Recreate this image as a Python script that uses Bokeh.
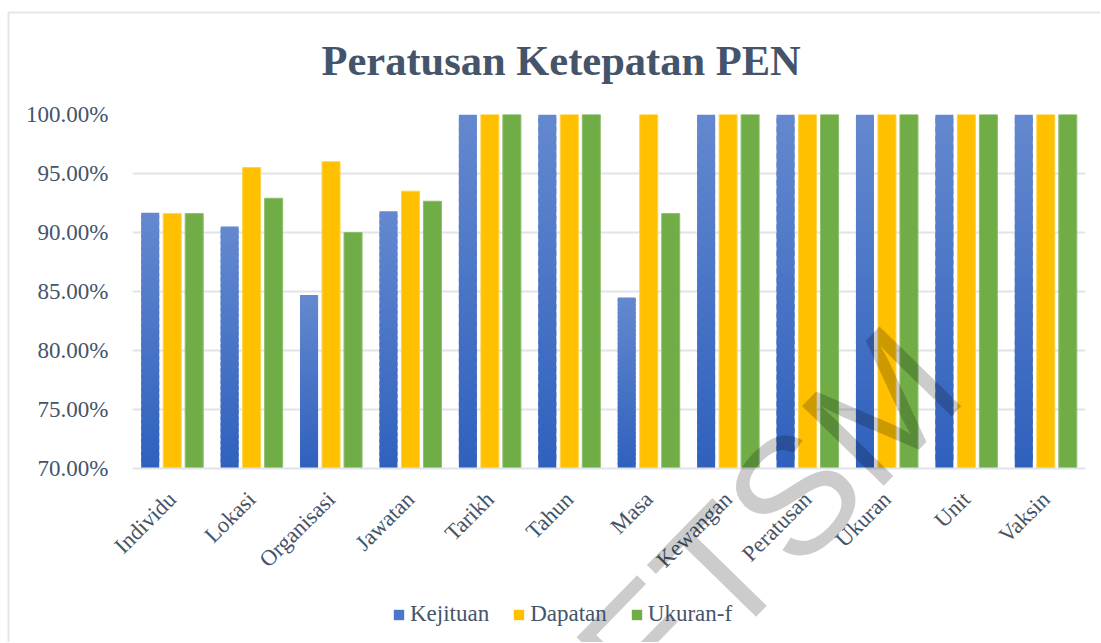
import math
from bokeh.plotting import figure
from bokeh.models import (ColumnDataSource, FixedTicker, NumeralTickFormatter, Legend,
                          LegendItem, Range1d, FactorRange)
from bokeh.core.properties import value
from bokeh.transform import dodge
from bokeh.embed import file_html
from bokeh.resources import INLINE

# ---------------- data ----------------
categories = ["Individu", "Lokasi", "Organisasi", "Jawatan", "Tarikh", "Tahun",
              "Masa", "Kewangan", "Peratusan", "Ukuran", "Unit", "Vaksin"]
kejituan = [0.9167, 0.905, 0.847, 0.918, 1.0, 1.0, 0.845, 1.0, 1.0, 1.0, 1.0, 1.0]
dapatan = [0.916, 0.955, 0.960, 0.935, 1.0, 1.0, 1.0, 1.0, 1.0, 1.0, 1.0, 1.0]
ukuran_f = [0.916, 0.929, 0.900, 0.9265, 1.0, 1.0, 0.916, 1.0, 1.0, 1.0, 1.0, 1.0]
series_names = ["Kejituan", "Dapatan", "Ukuran-f"]
y_ticks = [0.70, 0.75, 0.80, 0.85, 0.90, 0.95, 1.00]
title_text = "Peratusan Ketepatan PEN"
watermark_text = "ETSM"

# ---------------- style ----------------
BASE = 0.70
TEXT = "#44546A"
GRID = "#E0E3E8"
FRAME = "#E3E6EA"
YELLOW = "#FFC000"
GREEN = "#70AD47"
BLUE_MID = "#4A77C8"
BLUE_BOTTOM = (47, 97, 189)
BLUE_TOP = (100, 136, 207)
BAR_W = 0.227
STEP = 0.277
SERIF = "Liberation Serif"

p = figure(x_range=FactorRange(*categories), y_range=Range1d(BASE, 1.0),
           width=1090, height=642, output_backend="svg", toolbar_location=None,
           min_border_left=123, min_border_right=14, min_border_top=114,
           min_border_bottom=174, background_fill_color="white",
           border_fill_color="white")
p.styles = {"margin-left": "9px"}
p.outline_line_color = None

# blue bars with vertical gradient (slices computed from each value)
N = 40
bx, bb, bt, bc = [], [], [], []
for c, v in zip(categories, kejituan):
    for i in range(N):
        f = (i + 0.5) / N
        col = tuple(int(round(BLUE_BOTTOM[k] + (BLUE_TOP[k] - BLUE_BOTTOM[k]) * f)) for k in range(3))
        bx.append(c)
        bb.append(BASE + (v - BASE) * i / N)
        bt.append(BASE + (v - BASE) * min(i + 1.6, N) / N)
        bc.append("#%02x%02x%02x" % col)
blue_src = ColumnDataSource(dict(cat=bx, bottom=bb, top=bt, color=bc))
r_blue = p.vbar(x=dodge("cat", -STEP, range=p.x_range), width=BAR_W, bottom="bottom",
                top="top", fill_color="color", line_color=None, source=blue_src)

src = ColumnDataSource(dict(cat=categories, dapatan=dapatan, ukuran=ukuran_f))
r_yel = p.vbar(x=dodge("cat", 0.0, range=p.x_range), width=BAR_W, bottom=BASE,
               top="dapatan", fill_color=YELLOW, line_color="#FFD24D", line_width=1,
               source=src)
r_grn = p.vbar(x=dodge("cat", STEP, range=p.x_range), width=BAR_W, bottom=BASE,
               top="ukuran", fill_color=GREEN, line_color="#8DBE6C", line_width=1,
               source=src)

# axes
p.yaxis.ticker = FixedTicker(ticks=y_ticks)
p.yaxis.formatter = NumeralTickFormatter(format="0.00%")
p.yaxis.axis_line_color = None
p.yaxis.major_tick_line_color = None
p.yaxis.minor_tick_line_color = None
p.yaxis.major_label_standoff = 18
p.yaxis.major_label_text_font = SERIF
p.yaxis.major_label_text_font_size = "23px"
p.yaxis.major_label_text_color = TEXT

p.xaxis.axis_line_color = GRID
p.xaxis.axis_line_width = 2
p.xaxis.major_tick_line_color = None
p.xaxis.minor_tick_line_color = None
p.xaxis.major_label_orientation = math.pi / 4
p.xaxis.major_label_standoff = 21
p.xaxis.major_label_text_font = SERIF
p.xaxis.major_label_text_font_size = "22.5px"
p.xaxis.major_label_text_color = TEXT

p.xgrid.grid_line_color = None
p.ygrid.ticker = FixedTicker(ticks=y_ticks)
p.ygrid.grid_line_color = GRID
p.ygrid.grid_line_width = 2

# title
p.title.text = title_text
p.title.text_font = SERIF
p.title.text_font_style = "bold"
p.title.text_font_size = "42.5px"
p.title.text_color = TEXT
p.title.align = "left"
p.title.offset = 189
p.title.standoff = 61

# transparent overlay page (page pixel coordinates) for the chart border, legend
# and watermark, which lie outside the bar chart's frame
W, H = 1100, 642
ov = figure(width=W, height=H, x_range=Range1d(0, W), y_range=Range1d(0, H),
            output_backend="svg", toolbar_location=None, min_border=0,
            background_fill_alpha=0, border_fill_alpha=0)
ov.outline_line_color = None
ov.axis.visible = False
ov.grid.grid_line_color = None
ov.styles = {"position": "absolute", "left": "0px", "top": "0px",
             "pointer-events": "none"}

# chart-area border (top and left edges visible in the window)
ov.line(x=[8, 8, W], y=[0, H - 12, H - 12], line_color=FRAME, line_width=2)

# legend swatches (proxy renderers placed off-canvas)
sw_blue = ov.vbar(x=[-500], top=[-500], width=1, fill_color=BLUE_MID, line_color=None)
sw_yel = ov.vbar(x=[-500], top=[-500], width=1, fill_color=YELLOW, line_color=None)
sw_grn = ov.vbar(x=[-500], top=[-500], width=1, fill_color=GREEN, line_color=None)
legend = Legend(items=[LegendItem(label=series_names[0], renderers=[sw_blue]),
                       LegendItem(label=series_names[1], renderers=[sw_yel]),
                       LegendItem(label=series_names[2], renderers=[sw_grn])],
                orientation="horizontal", location=(392, 15),
                border_line_color=None, background_fill_alpha=0, padding=0, margin=0,
                spacing=23, label_standoff=5, glyph_width=13, glyph_height=13,
                label_text_font=SERIF, label_text_font_size="23px",
                label_text_color=TEXT)
ov.add_layout(legend)

# watermark
ov.text(x=[607], y=[H - 686], text=[watermark_text], angle=math.radians(45.7),
        text_font=value("Liberation Sans"), text_font_size="166px",
        text_color="black", text_alpha=0.2, text_align="left",
        text_baseline="alphabetic")

open("out.html", "w").write(file_html([p, ov], INLINE))
